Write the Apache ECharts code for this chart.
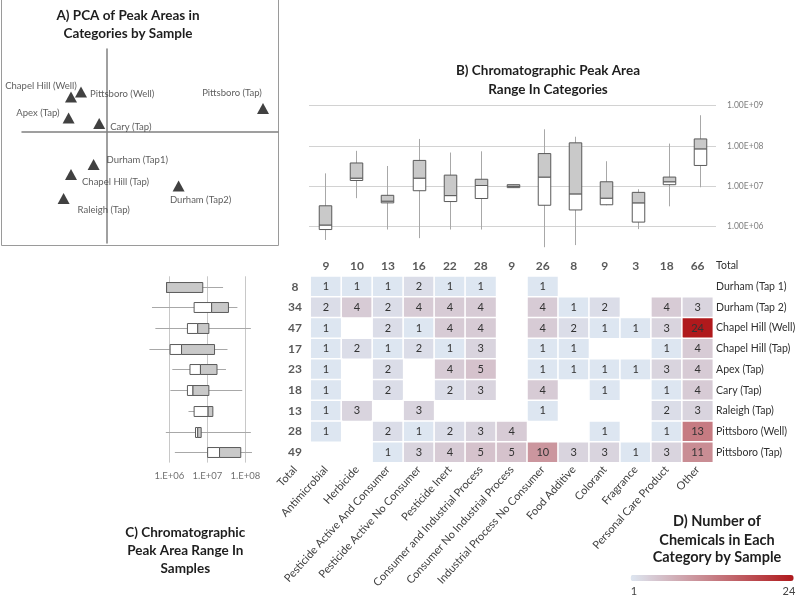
<!DOCTYPE html>
<html><head><meta charset="utf-8">
<script src="https://cdn.jsdelivr.net/npm/echarts@6/dist/echarts.min.js"></script>
<style>html,body{margin:0;padding:0;background:#fff}#c{width:800px;height:602px}</style>
</head><body><div id="c"></div>
<script>
// ---------- DATA ----------
const categories = ['Antimicrobial','Herbicide','Pesticide Active And Consumer','Pesticide Active No Consumer','Pesticide Inert','Consumer and Industrial Process','Consumer No Industrial Process','Industrial Process No Consumer','Food Additive','Colorant','Fragrance','Personal Care Product','Other'];
const categoryTotals = [9,10,13,16,22,28,9,26,8,9,3,18,66];
const samples = ['Durham (Tap 1)','Durham (Tap 2)','Chapel Hill (Well)','Chapel Hill (Tap)','Apex (Tap)','Cary (Tap)','Raleigh (Tap)','Pittsboro (Well)','Pittsboro (Tap)'];
const sampleTotals = [8,34,47,17,23,18,13,28,49];
// counts[sample][category], null = empty cell
const counts = [
  [1,1,1,2,1,1,null,1,null,null,null,null,null],
  [2,4,2,4,4,4,null,4,1,2,null,4,3],
  [1,null,2,1,4,4,null,4,2,1,1,3,24],
  [1,2,1,2,1,3,null,1,1,null,null,1,4],
  [1,null,2,null,4,5,null,1,1,1,1,3,4],
  [1,null,2,null,2,3,null,4,null,1,null,1,4],
  [1,3,null,3,null,null,null,1,null,null,null,2,3],
  [1,null,2,1,2,3,4,null,null,1,null,1,13],
  [null,null,1,3,4,5,5,10,3,3,1,3,11]
];
// Peak area ranges per category: [min, q1, median, q3, max]
const categoryMin = [4.7e5,5.1e6,8.5e5,5.2e5,8.5e5,8.5e5,9.3e6,3.1e5,3.5e5,3.4e6,8.7e5,3.2e6,9.5e6];
const categoryQ1  = [8.5e5,1.4e7,3.9e6,7.8e6,4.2e6,5.0e6,9.3e6,3.4e6,2.6e6,3.5e6,1.3e6,1.1e7,3.3e7];
const categoryMed = [1.1e6,1.6e7,4.3e6,1.6e7,5.9e6,1.05e7,1.0e7,1.7e7,6.5e6,5.1e6,3.9e6,1.3e7,8.5e7];
const categoryQ3  = [3.3e6,3.8e7,6.0e6,4.4e7,1.9e7,1.5e7,1.1e7,6.5e7,1.2e8,1.3e7,7.1e6,1.7e7,1.5e8];
const categoryMax = [2.1e7,7.6e7,3.2e7,1.5e8,6.9e7,7.4e7,1.1e7,2.6e8,1.7e8,4.2e7,8.5e6,1.15e8,5.8e8];
// Peak area ranges per sample
const sampleMin = [8.5e5,3.5e5,4.3e5,3.0e5,1.2e6,1.07e6,3.2e6,8.1e5,1.4e6];
const sampleQ1  = [8.5e5,4.5e6,3.0e6,1.05e6,3.5e6,3.0e6,4.5e6,4.9e6,1.02e7];
const sampleMed = [8.5e5,1.3e7,5.6e6,2.1e6,6.6e6,4.2e6,1.05e7,5.6e6,2.1e7];
const sampleQ3  = [7.6e6,3.6e7,1.1e7,1.55e7,1.8e7,1.1e7,1.4e7,6.9e6,7.6e7];
const sampleMax = [2.6e7,6.2e7,1.4e8,3.4e7,3.1e7,8.3e7,1.4e7,1.4e8,1.5e8];
// PCA scores
const pcaNames = ['Chapel Hill (Well)','Pittsboro (Well)','Apex (Tap)','Cary (Tap)','Pittsboro (Tap)','Durham (Tap1)','Chapel Hill (Tap)','Durham (Tap2)','Raleigh (Tap)'];
const pc1 = [-1.80,-1.30,-1.92,-0.39,7.80,-0.67,-1.80,3.58,-2.17];
const pc2 = [1.75,2.00,0.70,0.42,1.17,-1.63,-2.12,-2.70,-3.33];
// tick labels
const bTickLabels = {6:'1.00E+06',7:'1.00E+07',8:'1.00E+08',9:'1.00E+09'};
const cTickLabels = {6:'1.E+06',7:'1.E+07',8:'1.E+08'};
const colorMin = 1, colorMax = 24;

// ---------- LAYOUT / STYLE ----------
const FONT = 'Lato, "Liberation Sans", sans-serif';
const pcaLabelLayout = [
  {position:'top', distance:1, offset:[-30,0]},
  {position:'right', distance:3, offset:[0,2]},
  {position:'left', distance:3, offset:[0,-5]},
  {position:'right', distance:5, offset:[0,3]},
  {position:'top', distance:5, offset:[-31,0]},
  {position:'right', distance:7, offset:[0,-5]},
  {position:'right', distance:5, offset:[0,8]},
  {position:'bottom', distance:3, offset:[22,0]},
  {position:'right', distance:8, offset:[0,11]}
];

const chart = echarts.init(document.getElementById('c'), null, {renderer:'canvas'});

function expLabel(map){
  return function(v){
    const e = Math.log10(v);
    const r = Math.round(e);
    if (Math.abs(e - r) > 1e-6) return '';
    return map[r] || '';
  };
}

function vBox(params, api){
  const i = api.value(0);
  const cs = params.coordSys;
  const bw = cs.width / categories.length * 0.4;
  const x = Math.round(api.coord([i, api.value(3)])[0]) + 0.5;
  const y = k => api.coord([i, api.value(k)])[1];
  const yMin=y(1), yQ1=y(2), yMed=y(3), yQ3=y(4), yMax=y(5);
  return {type:'group', children:[
    {type:'line', shape:{x1:x,y1:yMax,x2:x,y2:yMin}, style:{stroke:'#a8a8a8', lineWidth:1}},
    {type:'rect', shape:{x:x-bw/2, y:yMed, width:bw, height:yQ1-yMed}, style:{fill:'#ffffff', stroke:'#5a5a5a', lineWidth:1}},
    {type:'rect', shape:{x:x-bw/2, y:yQ3, width:bw, height:yMed-yQ3}, style:{fill:'#c9c9c9', stroke:'#5a5a5a', lineWidth:1}}
  ]};
}
function hBox(params, api){
  const j = api.value(0);
  const cs = params.coordSys;
  const bh = cs.height / samples.length * 0.48;
  const yc = Math.round(api.coord([api.value(3), j])[1]) + 0.5;
  const x = k => api.coord([api.value(k), j])[0];
  const xMin=x(1), xQ1=x(2), xMed=x(3), xQ3=x(4), xMax=x(5);
  return {type:'group', children:[
    {type:'line', shape:{x1:xMin,y1:yc,x2:xMax,y2:yc}, style:{stroke:'#a8a8a8', lineWidth:1}},
    {type:'rect', shape:{x:xQ1, y:yc-bh/2, width:xMed-xQ1, height:bh}, style:{fill:'#ffffff', stroke:'#5a5a5a', lineWidth:1}},
    {type:'rect', shape:{x:xMed, y:yc-bh/2, width:xQ3-xMed, height:bh}, style:{fill:'#c9c9c9', stroke:'#5a5a5a', lineWidth:1}}
  ]};
}

const heatData = [];
counts.forEach((row, r) => row.forEach((v, c) => { if (v != null) heatData.push([c+1, r+1, v]); }));
const totalData = [];
sampleTotals.forEach((v, r) => totalData.push([0, r+1, v]));
categoryTotals.forEach((v, c) => totalData.push([c+1, 0, v]));

const catBoxData = categories.map((_, i) => [i, categoryMin[i], categoryQ1[i], categoryMed[i], categoryQ3[i], categoryMax[i]]);
const sampleBoxData = samples.map((_, j) => [j, sampleMin[j], sampleQ1[j], sampleMed[j], sampleQ3[j], sampleMax[j]]);

function title(lines, cx, ys, size){
  return lines.map((t, k) => ({type:'text', x:cx, y:ys[k], style:{text:t, font:'bold '+size+'px '+FONT, fill:'#1e1e1e', align:'center', verticalAlign:'middle', textAlign:'center', textVerticalAlign:'middle'}}));
}

const option = {
  animation:false,
  textStyle:{fontFamily:FONT},
  grid:[
    {left:22, top:49, width:256, height:194},
    {left:309, top:105.7, width:407, height:145.2},
    {left:279.5, top:255.6, width:433.6, height:207},
    {left:146.5, top:276.3, width:110.2, height:186.3}
  ],
  xAxis:[
    {gridIndex:0, type:'value', min:-4.25, max:8.55, axisLine:{onZero:true, lineStyle:{color:'#808080', width:1.5}}, axisTick:{show:false}, axisLabel:{show:false}, splitLine:{show:false}},
    {gridIndex:1, type:'category', data:categories, axisLine:{show:false}, axisTick:{show:false}, axisLabel:{show:false}, splitLine:{show:false}},
    {gridIndex:2, type:'category', data:['Total'].concat(categories), position:'bottom', axisLine:{show:false}, axisTick:{show:false}, splitLine:{show:false},
      axisLabel:{interval:0, rotate:48, margin:5, fontSize:11, color:'#404040', fontFamily:FONT}},
    {gridIndex:3, type:'log', logBase:10, min:Math.pow(10,5.4), max:Math.pow(10,8.3), axisLine:{show:false}, axisTick:{show:false},
      axisLabel:{formatter:expLabel(cTickLabels), fontSize:9.5, color:'#707070', margin:8, showMinLabel:false, showMaxLabel:false, fontFamily:FONT},
      splitLine:{show:true, showMinLine:false, showMaxLine:false, lineStyle:{color:'#c8c8c8', width:1}}}
  ],
  yAxis:[
    {gridIndex:0, type:'value', min:-5.55, max:4.15, axisLine:{onZero:true, lineStyle:{color:'#808080', width:1.5}}, axisTick:{show:false}, axisLabel:{show:false}, splitLine:{show:false}},
    {gridIndex:1, type:'log', logBase:10, min:Math.pow(10,5.4), max:1e9, position:'right', axisLine:{show:false}, axisTick:{show:false},
      axisLabel:{formatter:expLabel(bTickLabels), fontSize:8.5, color:'#808080', margin:11, showMinLabel:false, fontFamily:FONT},
      splitLine:{show:true, showMinLine:false, lineStyle:{color:'#d2d2d2', width:1}}},
    {gridIndex:2, type:'category', data:['Total'].concat(samples), inverse:true, position:'right', axisLine:{show:false}, axisTick:{show:false}, splitLine:{show:false},
      axisLabel:{margin:3, fontSize:10.5, color:'#303030', fontFamily:FONT}},
    {gridIndex:3, type:'category', data:samples, inverse:true, axisLine:{show:false}, axisTick:{show:false}, axisLabel:{show:false}, splitLine:{show:false}}
  ],
  visualMap:{
    type:'continuous', seriesIndex:3, min:colorMin, max:colorMax, orient:'horizontal', left:630.7, top:575, padding:0,
    itemWidth:6, itemHeight:163, calculable:false, realtime:false, hoverLink:false, text:null, showLabel:false,
    inRange:{color:['#dde6f1','#b0191c']}, textStyle:{color:'#444'}
  },
  series:[
    {type:'scatter', xAxisIndex:0, yAxisIndex:0, symbol:'triangle', symbolSize:[12,11], itemStyle:{color:'#111'},
      data: pcaNames.map((n, i) => ({name:n, value:[pc1[i], pc2[i]],
        label:Object.assign({show:true, formatter:n, fontSize:9.5, color:'#333', fontFamily:FONT}, pcaLabelLayout[i])}))},
    {type:'custom', xAxisIndex:1, yAxisIndex:1, renderItem:vBox, encode:{x:0, y:[1,2,3,4,5]}, data:catBoxData, z:3},
    {type:'custom', xAxisIndex:3, yAxisIndex:3, renderItem:hBox, encode:{y:0, x:[1,2,3,4,5]}, data:sampleBoxData, z:3},
    {type:'heatmap', xAxisIndex:2, yAxisIndex:2, data:heatData,
      itemStyle:{borderColor:'#ffffff', borderWidth:1.5},
      label:{show:true, fontSize:11, color:'#333', fontFamily:FONT},
      emphasis:{disabled:true}},
    {type:'scatter', xAxisIndex:2, yAxisIndex:2, data:totalData, symbolSize:1, itemStyle:{color:'rgba(0,0,0,0)'},
      label:{show:true, position:'inside', formatter:p => String(p.value[2]), fontSize:12, fontWeight:'bold', color:'#303030', fontFamily:FONT},
      emphasis:{disabled:true}}
  ],
  graphic:[
    {type:'polyline', shape:{points:[[1.5,0],[1.5,245.5],[278.5,245.5],[278.5,0]]}, style:{stroke:'#9a9a9a', lineWidth:1, fill:null}},
    ...title(['A) PCA of Peak Areas in','Categories by Sample'], 128, [16,33.5], 13.5),
    ...title(['B) Chromatographic Peak Area','Range In Categories'], 548, [70.7,89.3], 13.5),
    ...title(['C) Chromatographic','Peak Area Range In','Samples'], 185.3, [532.7,551,568.5], 13.5),
    ...title(['D) Number of','Chemicals in Each','Category by Sample'], 717, [521.7,540,557.5], 14.5),
    {type:'text', x:634, y:591, style:{text:String(colorMin), font:'11px '+FONT, fill:'#444', align:'center', verticalAlign:'middle', textAlign:'center', textVerticalAlign:'middle'}},
    {type:'text', x:789, y:591, style:{text:String(colorMax), font:'11px '+FONT, fill:'#444', align:'center', verticalAlign:'middle', textAlign:'center', textVerticalAlign:'middle'}}
  ]
};
chart.setOption(option);
</script></body></html>
